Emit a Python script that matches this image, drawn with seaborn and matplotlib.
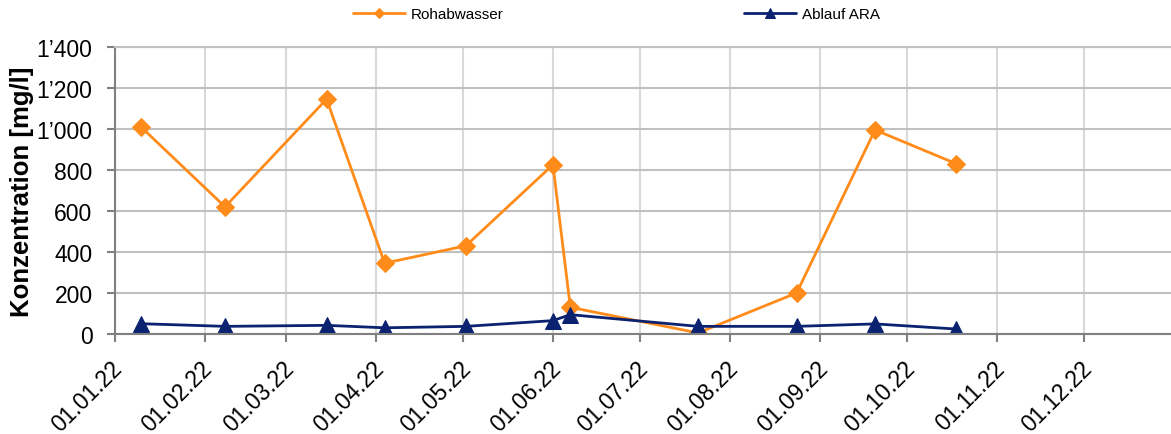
"""
plot.py

Konzentration Rohabwasser / Ablauf ARA im Jahr 2022.
Speichert die Grafik als out.png.
"""

import pandas as pd
import matplotlib
matplotlib.use("Agg")
import matplotlib.pyplot as plt
import matplotlib.dates as mdates
from matplotlib.ticker import FuncFormatter, MultipleLocator
from matplotlib.transforms import ScaledTranslation
import seaborn as sns

# Probenahmedaten
datum = ["2022-01-10", "2022-02-08", "2022-03-15", "2022-04-04", "2022-05-02",
         "2022-06-01", "2022-06-07", "2022-07-21", "2022-08-24", "2022-09-20",
         "2022-10-18"]
rohabwasser = [1010, 620, 1145, 345, 430, 825, 130, 5, 200, 995, 830]
ablauf_ara = [50, 37, 42, 30, 37, 65, 94, 37, 37, 49, 24]

serien = ["Rohabwasser", "Ablauf ARA"]
farben = ["#FF8C1A", "#0A2270"]
marker = ["D", "^"]

y_label = "Konzentration [mg/l]"


def tausender(v, pos):
	s = f"{int(round(v)):,}"
	return s.replace(",", "\u2019")


def main():
	sns.set_style("white")
	plt.rcParams["font.family"] = ["Liberation Sans", "DejaVu Sans"]
	plt.rcParams["text.color"] = "black"
	plt.rcParams["axes.labelcolor"] = "black"
	plt.rcParams["xtick.labelcolor"] = "black"
	plt.rcParams["ytick.labelcolor"] = "black"

	df = pd.DataFrame({
		"Datum": pd.to_datetime(datum * 2),
		"Wert": rohabwasser + ablauf_ara,
		"Serie": [serien[0]] * len(datum) + [serien[1]] * len(datum),
	})

	fig = plt.figure(figsize=(11.71, 4.35), dpi=100)
	ax = fig.add_axes([0.098, 0.23, 0.902, 0.66])

	for name, col, mk in zip(serien, farben, marker):
		sub = df[df["Serie"] == name]
		sns.lineplot(data=sub, x="Datum", y="Wert", ax=ax, color=col,
		             marker=mk, markersize=9 if mk == "D" else 12,
		             markeredgecolor=col, linewidth=2, label=name)

	ax.set_xlim(pd.Timestamp("2022-01-01"), pd.Timestamp("2022-12-31"))
	ax.set_ylim(0, 1400)
	ax.yaxis.set_major_locator(MultipleLocator(200))
	ax.yaxis.set_major_formatter(FuncFormatter(tausender))
	ax.xaxis.set_major_locator(mdates.MonthLocator())
	ax.xaxis.set_major_formatter(mdates.DateFormatter("%d.%m.%y"))

	ax.grid(axis="y", color="#C0C0C0", linewidth=1.5)
	ax.grid(axis="x", color="#D9D9D9", linewidth=1.5)
	ax.set_axisbelow(True)

	ax.spines["right"].set_visible(False)
	ax.spines["top"].set_color("#C0C0C0")
	ax.spines["top"].set_linewidth(1.5)
	for s in ["left", "bottom"]:
		ax.spines[s].set_color("#808080")
		ax.spines[s].set_linewidth(1.5)

	ax.tick_params(axis="both", which="major", length=6, width=1.5,
	               color="#808080", labelsize=16.5, direction="out",
	               labelcolor="black", bottom=True, left=True)
	ax.tick_params(axis="y", pad=10)

	# Datumsbeschriftung schraeg, etwas nach unten versetzt
	versatz = ScaledTranslation(-4 / 100, -9 / 100, fig.dpi_scale_trans)
	for lab in ax.get_xticklabels():
		lab.set_rotation(45)
		lab.set_ha("right")
		lab.set_rotation_mode("anchor")
		lab.set_transform(lab.get_transform() + versatz)

	ax.set_xlabel("")
	ax.set_ylabel(y_label, fontsize=18.5, fontweight="bold", labelpad=2,
	              color="black")

	ax.get_legend().remove()
	handles, labels = ax.get_legend_handles_labels()
	leg = fig.legend(handles, labels, loc="center",
	                 bbox_to_anchor=(0.5265, 0.9655), ncol=2, frameon=False,
	                 fontsize=11, columnspacing=15.7, handlelength=3.4,
	                 handletextpad=0.4, markerscale=0.6)
	for t in leg.get_texts():
		t.set_color("black")

	fig.savefig("out.png", dpi=100)
	plt.close(fig)


if __name__ == "__main__":
	main()
